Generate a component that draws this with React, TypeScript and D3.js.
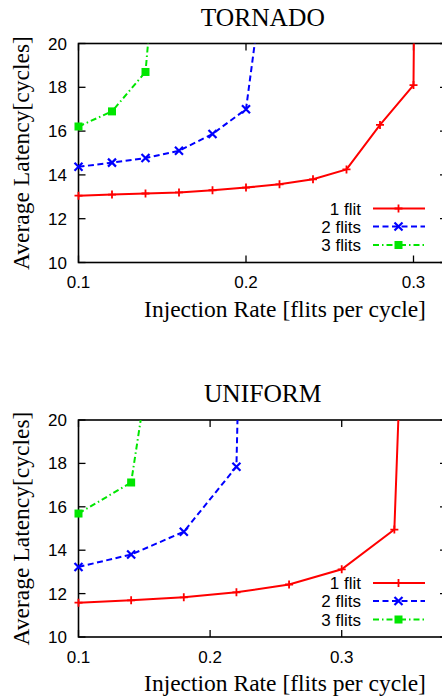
import React from "react";
import * as d3 from "d3";

// ---- data ----
const SERIES_NAMES = ["1 flit", "2 flits", "3 flits"];
const Y_TICKS = [10, 12, 14, 16, 18, 20];
const X_TICKS = [0.1, 0.2, 0.3];

// TORNADO
const tornadoX1 = [0.10, 0.12, 0.14, 0.16, 0.18, 0.20, 0.22, 0.24, 0.26, 0.28, 0.30, 0.32];
const tornadoY1 = [13.05, 13.1, 13.15, 13.2, 13.3, 13.42, 13.57, 13.8, 14.25, 16.28, 18.1, 200];
const tornadoX2 = [0.10, 0.12, 0.14, 0.16, 0.18, 0.20, 0.22];
const tornadoY2 = [14.37, 14.56, 14.77, 15.1, 15.87, 17.0, 28.5];
const tornadoX3 = [0.10, 0.12, 0.14, 0.16];
const tornadoY3 = [16.21, 16.9, 18.7, 36];

// UNIFORM
const uniformX1 = [0.10, 0.14, 0.18, 0.22, 0.26, 0.30, 0.34, 0.38];
const uniformY1 = [11.58, 11.69, 11.83, 12.06, 12.42, 13.12, 14.95, 82];
const uniformX2 = [0.10, 0.14, 0.18, 0.22, 0.26];
const uniformY2 = [13.23, 13.8, 14.85, 17.85, 125];
const uniformX3 = [0.10, 0.14, 0.18];
const uniformY3 = [15.69, 17.12, 33];

const COLORS = ["#ff0000", "#0000ff", "#00e600"];
const DASHES = ["none", "6,3.5", "6,3,1.5,3"];

type Panel = {
  title: string;
  top: number;
  plotTop: number;
  plotBottom: number;
  xMax: number;
  xs: number[][];
  ys: number[][];
};

const panels: Panel[] = [
  { title: "TORNADO", top: 0, plotTop: 43.5, plotBottom: 262.5, xMax: 0.32, xs: [tornadoX1, tornadoX2, tornadoX3], ys: [tornadoY1, tornadoY2, tornadoY3] },
  { title: "UNIFORM", top: 376, plotTop: 420, plotBottom: 637, xMax: 0.38, xs: [uniformX1, uniformX2, uniformX3], ys: [uniformY1, uniformY2, uniformY3] },
];

const SANS = "'Liberation Sans', Arial, sans-serif";
const SERIF = "'Liberation Serif', 'Times New Roman', serif";

function Marker({ kind, x, y, color }: { kind: number; x: number; y: number; color: string }) {
  if (kind === 0) {
    const s = 4;
    return (
      <path d={`M${x - s},${y}H${x + s}M${x},${y - s}V${y + s}`} stroke={color} strokeWidth={1.8} fill="none" />
    );
  }
  if (kind === 1) {
    const s = 4;
    return (
      <path d={`M${x - s},${y - s}L${x + s},${y + s}M${x - s},${y + s}L${x + s},${y - s}`} stroke={color} strokeWidth={2.2} fill="none" />
    );
  }
  const s = 4;
  return <rect x={x - s} y={y - s} width={2 * s} height={2 * s} fill={color} />;
}

function PanelView({ p, idx }: { p: Panel; idx: number }) {
  const left = 78.5;
  const right = 447;
  const top = p.plotTop;
  const bottom = p.plotBottom;
  const x = d3.scaleLinear().domain([0.1, p.xMax]).range([left, right]);
  const y = d3.scaleLinear().domain([10, 20]).range([bottom, top]);
  const line = d3
    .line<[number, number]>()
    .x((d) => x(d[0]))
    .y((d) => y(d[1]));
  const clipId = `clip${idx}`;
  const tickLen = 7;
  const legendYs = [bottom - 54, bottom - 36, bottom - 17.5];
  return (
    <g>
      <defs>
        <clipPath id={clipId}>
          <rect x={left} y={top} width={right - left} height={bottom - top} />
        </clipPath>
      </defs>
      <text x={(left + right) / 2} y={p.top + 26} textAnchor="middle" fontFamily={SERIF} fontSize={25.5} fill="#000">
        {p.title}
      </text>
      {/* y ticks */}
      {Y_TICKS.map((t) => (
        <g key={"y" + t}>
          <line x1={left} x2={left + tickLen} y1={y(t)} y2={y(t)} stroke="#000" strokeWidth={1.3} />
          <line x1={right} x2={right - tickLen} y1={y(t)} y2={y(t)} stroke="#000" strokeWidth={1.3} />
          <text x={67} y={y(t) + 6} textAnchor="end" fontFamily={SANS} fontSize={17} fill="#000">
            {t}
          </text>
        </g>
      ))}
      {X_TICKS.map((t) => (
        <g key={"x" + t}>
          <line x1={x(t)} x2={x(t)} y1={bottom} y2={bottom - tickLen} stroke="#000" strokeWidth={1.3} />
          <line x1={x(t)} x2={x(t)} y1={top} y2={top + tickLen} stroke="#000" strokeWidth={1.3} />
          <text x={x(t)} y={bottom + 25.5} textAnchor="middle" fontFamily={SANS} fontSize={17} fill="#000">
            {t.toFixed(1)}
          </text>
        </g>
      ))}
      {/* frame */}
      <rect x={left} y={top} width={right - left} height={bottom - top} fill="none" stroke="#000" strokeWidth={1.6} />
      {/* series */}
      {p.xs.map((xs, i) => {
        const pts: [number, number][] = xs.map((v, j) => [v, p.ys[i][j]]);
        const visible = pts.filter((d) => d[1] <= 20 && d[1] >= 10 && d[0] <= p.xMax);
        return (
          <g key={"s" + i}>
            <path
              d={line(pts) || ""}
              fill="none"
              stroke={COLORS[i]}
              strokeWidth={2}
              strokeDasharray={DASHES[i]}
              clipPath={`url(#${clipId})`}
            />
            {visible.map((d, j) => (
              <Marker key={j} kind={i} x={x(d[0])} y={y(d[1])} color={COLORS[i]} />
            ))}
          </g>
        );
      })}
      {/* legend */}
      {SERIES_NAMES.map((name, i) => (
        <g key={"l" + i}>
          <text x={361} y={legendYs[i] + 6} textAnchor="end" fontFamily={SANS} fontSize={17} fill="#000">
            {name}
          </text>
          <line x1={373} x2={425} y1={legendYs[i]} y2={legendYs[i]} stroke={COLORS[i]} strokeWidth={2} strokeDasharray={DASHES[i]} />
          <Marker kind={i} x={398.5} y={legendYs[i]} color={COLORS[i]} />
        </g>
      ))}
      {/* axis labels */}
      <text x={285} y={bottom + 54} textAnchor="middle" fontFamily={SERIF} fontSize={23.5} fill="#000">
        Injection Rate [flits per cycle]
      </text>
      <text
        transform={`translate(29,${(top + bottom) / 2}) rotate(-90)`}
        textAnchor="middle"
        fontFamily={SERIF}
        fontSize={23.5}
        fill="#000"
      >
        Average Latency[cycles]
      </text>
    </g>
  );
}

export default function App() {
  return (
    <svg
      width={442}
      height={698}
      viewBox="0 0 442 698"
      style={{ position: "absolute", left: 0, top: 0, background: "#fff" }}
    >
      <rect width={442} height={698} fill="#fff" />
      {panels.map((p, i) => (
        <PanelView key={p.title} p={p} idx={i} />
      ))}
    </svg>
  );
}
